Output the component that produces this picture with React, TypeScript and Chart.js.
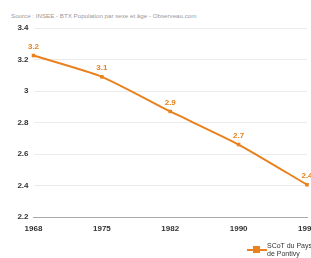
import React, { useEffect, useRef } from "react";
import { Chart, registerables } from "chart.js";

Chart.register(...registerables);

const years = ["1968", "1975", "1982", "1990", "1999"];
const values = [3.225, 3.09, 2.87, 2.66, 2.405];
const seriesName = ["SCoT du Pays", "de Pontivy"];
const sourceText = "Source : INSEE - BTX Population par sexe et âge - Observeau.com";
const yMin = 2.2;
const yMax = 3.4;
const yStep = 0.2;

const ORANGE = "#e8811e";

const valueLabels = {
  id: "valueLabels",
  afterDatasetsDraw(chart: any) {
    const ctx = chart.ctx;
    const meta = chart.getDatasetMeta(0);
    ctx.save();
    ctx.fillStyle = ORANGE;
    ctx.font = "bold 8px 'Liberation Sans', sans-serif";
    ctx.textAlign = "center";
    ctx.textBaseline = "bottom";
    meta.data.forEach((pt: any, i: number) => {
      const v = chart.data.datasets[0].data[i] as number;
      ctx.fillText(v.toFixed(1), pt.x, pt.y - 5);
    });
    ctx.restore();
  },
};

export default function App() {
  const ref = useRef<HTMLCanvasElement>(null);
  useEffect(() => {
    if (!ref.current) return;
    const chart = new Chart(ref.current, {
      type: "line",
      data: {
        labels: years,
        datasets: [
          {
            label: seriesName.join(" "),
            data: values,
            borderColor: ORANGE,
            backgroundColor: ORANGE,
            borderWidth: 2,
            pointStyle: "rect",
            pointRadius: 2.5,
            pointBorderWidth: 0,
            tension: 0.2,
            clip: false as any,
          },
        ],
      },
      plugins: [valueLabels],
      options: {
        animation: false,
        responsive: true,
        maintainAspectRatio: false,
        layout: { padding: { top: 28, left: 0, right: 1.5, bottom: 25 } },
        plugins: {
          legend: { display: false },
          tooltip: { enabled: false },
        },
        scales: {
          x: {
            grid: { display: false, drawTicks: false },
            border: { display: true, color: "#a8a8a8", width: 1 },
            ticks: {
              color: "#333",
              font: { family: "'Liberation Sans', sans-serif", size: 8, weight: "bold" },
              padding: 7,
              autoSkip: false,
              maxRotation: 0,
            },
            afterFit(scale: any) {
              scale.height = 16;
              scale.paddingLeft = 0;
              scale.paddingRight = 0;
            },
          },
          y: {
            min: yMin,
            max: yMax,
            grid: { color: "#ebebeb", lineWidth: 1, drawTicks: false },
            border: { display: false },
            ticks: {
              stepSize: yStep,
              color: "#333",
              font: { family: "'Liberation Sans', sans-serif", size: 8, weight: "bold" },
              padding: 5,
              callback: (v: any) => String(Number(Number(v).toFixed(1))),
            },
            afterFit(scale: any) {
              scale.width = 33.5;
              scale.paddingTop = 0;
              scale.paddingBottom = 0;
            },
          },
        },
      },
    });
    return () => chart.destroy();
  }, []);

  return (
    <div
      style={{
        position: "fixed",
        left: 0,
        top: 0,
        width: 311,
        height: 258,
        overflow: "hidden",
        background: "#fff",
        fontFamily: "'Liberation Sans', sans-serif",
      }}
    >
      <div
        style={{
          position: "absolute",
          left: 11,
          top: 12,
          fontSize: 6.2,
          color: "#999",
          whiteSpace: "nowrap",
        }}
      >
        {sourceText}
      </div>
      <canvas ref={ref} style={{ position: "absolute", left: 0, top: 0, width: 311, height: 258 }} />
      <div
        style={{
          position: "absolute",
          left: 247,
          top: 242,
          display: "flex",
          alignItems: "center",
          whiteSpace: "nowrap",
        }}
      >
        <div style={{ position: "relative", width: 20, height: 8, marginRight: 0 }}>
          <div style={{ position: "absolute", left: 0, top: 3, width: 20, height: 2, background: ORANGE }} />
          <div style={{ position: "absolute", left: 6, top: 0.5, width: 7, height: 7, background: ORANGE }} />
        </div>
        <div style={{ fontSize: 7, lineHeight: "7.5px", color: "#333" }}>
          {seriesName[0]}
          <br />
          {seriesName[1]}
        </div>
      </div>
    </div>
  );
}
